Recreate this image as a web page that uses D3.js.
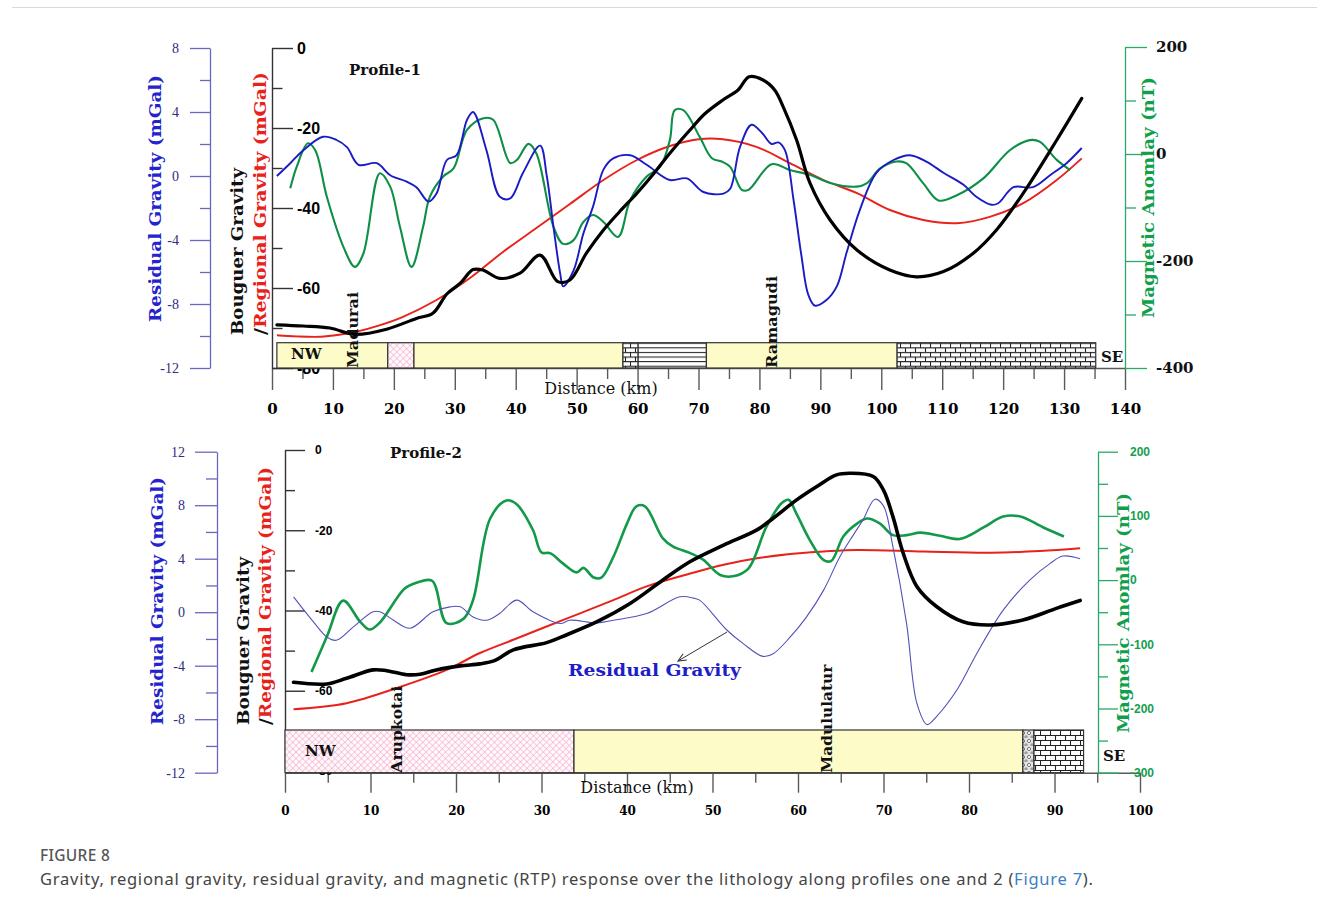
<!DOCTYPE html>
<html><head><meta charset="utf-8">
<script src="https://cdn.jsdelivr.net/npm/d3@7"></script>
<style>
body{margin:0;background:#fff;}
svg{display:block;}
</style></head><body>
<svg id="chart" width="1329" height="911"></svg>
<script>
// ---------------- DATA ----------------
// Profile 1  ([distance km, value])
const p1Bouguer = [[0.8,-69.2],[5.1,-69.5],[9.5,-70],[13.6,-71.6],[18.8,-70.3],[23.7,-67.6],[26.4,-66.3],[28.7,-61.5],[30.9,-58.8],[33,-55.4],[34.6,-55.5],[37.4,-57.6],[40.7,-56.3],[44,-51.8],[46.9,-58.4],[48.9,-58],[51.6,-51.3],[54.4,-45.5],[57,-41],[59.9,-36.3],[62.6,-31.5],[65.3,-26.3],[68.6,-20.5],[71,-16.5],[74,-13],[76.5,-10.5],[78.3,-7.2],[80.6,-8],[82.5,-10.5],[83.9,-14.7],[86.1,-23],[88.3,-33.8],[91.6,-43],[96,-50.5],[101.4,-55.5],[105.8,-57.2],[110.2,-55.9],[115.1,-51.3],[118.9,-45.5],[123.3,-36.3],[128.8,-23],[132.9,-12.6]];
const p1Regional = [[0.8,-71.8],[4,-72.1],[7.9,-72.2],[11,-71.7],[13.9,-70.9],[17.5,-69.4],[21.5,-67.2],[27,-63],[32.5,-57.5],[37.9,-51],[43.4,-45],[48.9,-39],[54.4,-33],[59.9,-28],[65.3,-24.5],[70,-22.8],[74,-22.8],[79.5,-24.7],[85,-28.8],[90.5,-33],[96,-36.3],[101.4,-40.5],[106.9,-43],[112.4,-43.8],[117.8,-42.2],[123.3,-38.8],[128.8,-33],[132.9,-27.6]];
const p1Residual = [[0.8,0],[3,0.8],[5.1,1.6],[8.4,2.45],[10.6,2.25],[12.3,1.8],[14.2,0.7],[17.2,0.8],[19.4,0.05],[22.1,-0.35],[23.7,-0.7],[25.7,-1.6],[27,-1.1],[28.7,1.0],[30.3,1.3],[32,3.5],[33,4.0],[35.2,1.6],[37.4,-1.3],[39.1,-1.4],[41.2,0.2],[44,1.9],[45.1,0],[46.2,-3.2],[47.3,-6.1],[47.8,-6.9],[49.5,-5.9],[51.1,-3.6],[52.7,-1.9],[54.4,0.4],[56,1.1],[58.8,1.3],[61.5,0.7],[65.3,-0.25],[68.1,-0.15],[70.8,-1.0],[74.1,-1.1],[75.2,-0.8],[76.8,1.8],[78.7,3.2],[80.4,2.7],[82,2.0],[83.1,2.1],[84.2,1.6],[85.6,-1.5],[86.9,-5.0],[88,-7.4],[89.1,-8.1],[91,-7.75],[92.7,-6.9],[94.3,-4.8],[96.5,-2.1],[99.2,0.2],[102,1.0],[104.7,1.3],[107.4,0.9],[110.2,0.2],[113.5,-0.55],[115.6,-1.3],[118.1,-1.8],[119.2,-1.7],[121.7,-0.7],[124.9,-0.7],[127.7,0.05],[130.4,0.8],[132.9,1.75]];
const p1Magnetic = [[3,-64],[4.05,-24],[5.9,20],[7.1,7],[9,-80],[11.7,-173],[13.6,-211],[15,-186],[17.7,-36],[19.4,-61],[21,-136],[22.9,-211],[24.8,-136],[25.9,-80],[28.1,-42],[29.8,-27],[32,45],[34.7,67],[36.3,64],[39.1,-17],[40.2,-11],[42.1,19],[43.4,1],[46.2,-136],[47.8,-168],[49.5,-161],[51.1,-127],[52.7,-114],[54.4,-127],[56.8,-155],[58.8,-86],[61.5,-42],[63.7,-24],[65.3,26],[66.1,82],[67.5,82],[70.2,32],[72.2,-8],[73.8,-14],[75.2,-24],[77.1,-67],[78.2,-67],[82,-19],[85,-30],[88.3,-39],[91.6,-54],[96,-61],[97.6,-55],[99.8,-27],[102.5,-14],[104.1,-17],[106.9,-55],[109.4,-87],[112.4,-77],[116.8,-45],[121.1,7],[124.4,26],[126,23],[128.8,-11],[131,-30]];
const p1Lith = [
  {from:0.8, to:19.0, rock:'sand'},
  {from:19.0, to:23.3, rock:'cross'},
  {from:23.3, to:57.6, rock:'sand'},
  {from:57.6, to:60.1, rock:'brick'},
  {from:60.1, to:71.3, rock:'hlines'},
  {from:71.3, to:102.6, rock:'sand'},
  {from:102.6, to:135.2, rock:'brick'}
];
const p1Places = [{name:'Madurai', km:13.3}, {name:'Ramagudi', km:82.1}];
const p1XTicks = [0,10,20,30,40,50,60,70,80,90,100,110,120,130,140];
const p1XMinor = [5,15,25,35,45,55,65,75,85,95,105,115,125,135];
const p1BouguerTicks = [0,-20,-40,-60,-80];
const p1BouguerMinor = [-10,-30,-50,-70];
const p1ResTicks = [8,4,0,-4,-8,-12];
const p1ResMinor = [6,2,-2,-6,-10];
const p1MagTicks = [200,0,-200,-400];
const p1MagMinor = [100,-100,-300];

// Profile 2
const p2Bouguer = [[1,-57.9],[4.9,-58.3],[7.2,-56.9],[10.3,-54.8],[11.9,-55],[14.2,-56],[15.8,-55.9],[17.7,-54.8],[20.5,-53.8],[22.8,-53.3],[24.5,-52.5],[26.7,-49.8],[30.6,-48],[32.9,-46.1],[36.5,-42.8],[40.4,-38.2],[44.2,-32.4],[47.4,-27.8],[51.3,-23.7],[55.2,-19.9],[57.1,-17],[59.8,-12.5],[62.2,-9.1],[64.5,-6.2],[66.1,-5.8],[68.8,-6.6],[70,-10],[71.1,-16.6],[72.3,-25.7],[73.9,-34],[76.2,-39],[79.3,-42.8],[82.5,-43.6],[86.4,-42.3],[90.3,-39.4],[93,-37.5]];
const p2Regional = [[1,-64.6],[7.2,-63.1],[13.1,-59.3],[18.9,-54.8],[22.8,-50.6],[26.7,-47.3],[30.6,-44],[34.5,-40.7],[38.4,-37.4],[42.3,-34],[47.4,-30.8],[51.3,-28.6],[55.2,-27],[59.1,-25.9],[63,-25.3],[66.9,-24.9],[74.7,-25.3],[82.5,-25.6],[88.3,-25.2],[93,-24.5]];
const p2Residual = [[1,1.15],[3.3,-0.7],[4.9,-1.85],[6,-2.1],[8,-1.1],[10.3,0.03],[11.1,0.03],[12.7,-0.6],[14.6,-1.2],[17.3,0.03],[19.3,0.4],[20.5,0.4],[22,-0.35],[23.6,-0.6],[25.1,-0.1],[27.1,0.9],[29,0.03],[32.2,-0.85],[33.3,-0.6],[36.5,-0.8],[38.4,-0.6],[42.3,-0.1],[46.2,1.15],[47.8,1.05],[48.5,0.9],[51.7,-1.35],[53.6,-2.35],[55.9,-3.3],[57.1,-3.1],[59.1,-1.85],[61,-0.35],[63,1.65],[64.9,4.15],[66.5,5.8],[67.6,6.9],[69,8.45],[70,7.95],[71.1,4.9],[72.7,-0.85],[73.9,-6.8],[75.1,-8.4],[76.2,-7.8],[78.6,-5.8],[80.9,-3.1],[84,0.15],[87.1,2.4],[89.5,3.65],[91,4.2],[93,4.0]];
const p2Magnetic = [[3.1,-143],[4.9,-88],[6.8,-32],[8.8,-65],[9.9,-77],[11.1,-66],[14,-13],[15.4,-4],[17.2,-1],[18.9,-67],[20.9,-60],[22,-31],[24,96],[25.9,124],[27.1,118],[29,78],[30,43],[31,42],[32.5,26],[34.1,12],[34.9,19],[36.1,4],[37,4],[38.4,36],[40,88],[41.1,115],[42.1,115],[44.2,65],[45.4,52],[47.4,42],[48.9,32],[50.9,8],[52.4,6],[54.2,18],[56.3,83],[58.1,120],[58.9,125],[59.8,104],[61.4,62],[63,31],[63.9,30],[65.3,68],[66.9,88],[68.1,96],[69.6,88],[71.1,70],[72.7,70],[74.3,74],[76.6,69],[78.9,64],[81.7,82],[84,99],[86,99],[88.7,82],[91.1,68]];
const p2Lith = [
  {from:0, to:33.8, rock:'cross'},
  {from:33.8, to:86.3, rock:'sand'},
  {from:86.3, to:87.6, rock:'pebble'},
  {from:87.6, to:93.4, rock:'brick2'}
];
const p2Places = [{name:'Arupkotai', km:13.1}, {name:'Madululatur', km:63.4}];
const p2XTicks = [0,10,20,30,40,50,60,70,80,90,100];
const p2XMinor = [5,15,25,35,45,55,65,75,85,95];
const p2BouguerTicks = [0,-20,-40,-60,-80];
const p2BouguerMinor = [-10,-30,-50,-70];
const p2ResTicks = [12,8,4,0,-4,-8,-12];
const p2ResMinor = [10,6,2,-2,-6,-10];
const p2MagTicks = [200,100,0,-100,-200,-300];
const p2MagMinor = [150,50,-50,-150,-250];

// ---------------- DRAWING ----------------
const SLAB = "'DejaVu Serif', serif";
const SANS = "'Liberation Sans', Arial, sans-serif";
const TIMES = "'Liberation Serif', 'Times New Roman', serif";
const C = {blue:'#1b1bc4', blue2:'#5252b8', green:'#0d8f48', green2:'#12994a', red:'#e8221b',
  sand:'#fdfbc8', resAxis:'#6767c2', resText:'#2e2e80', magAxis:'#2aa866', gray:'#5a5a5a'};

const svg = d3.select('#chart');
const defs = svg.append('defs');

// patterns
const pc = defs.append('pattern').attr('id','cross').attr('patternUnits','userSpaceOnUse')
  .attr('width',4.6).attr('height',4.6).attr('patternTransform','rotate(45)');
pc.append('rect').attr('width',4.6).attr('height',4.6).attr('fill','#fff8fb');
pc.append('path').attr('d','M0,0H4.6M0,0V4.6').attr('stroke','#f09ac3').attr('stroke-width',1);

function brick(id, w, h, y0) {
  const p = defs.append('pattern').attr('id',id).attr('patternUnits','userSpaceOnUse')
    .attr('width',w).attr('height',2*h).attr('y',y0);
  p.append('rect').attr('width',w).attr('height',2*h).attr('fill','#fff');
  p.append('path').attr('d',`M0,0.5H${w}M0,${h+0.5}H${w}M0.5,0V${h}M${w/2+0.5},${h}V${2*h}`)
    .attr('stroke','#222').attr('stroke-width',1.1).attr('fill','none');
}
brick('brick', 10, 4.6, 342.7);
brick('brick2', 10, 5, 730);
const ph = defs.append('pattern').attr('id','hlines').attr('patternUnits','userSpaceOnUse')
  .attr('width',6).attr('height',4.6).attr('y',342.7);
ph.append('rect').attr('width',6).attr('height',4.6).attr('fill','#fff');
ph.append('path').attr('d','M0,0.5H6').attr('stroke','#222').attr('stroke-width',1.1);
const pp = defs.append('pattern').attr('id','pebble').attr('patternUnits','userSpaceOnUse')
  .attr('width',6).attr('height',8).attr('y',730);
pp.append('rect').attr('width',6).attr('height',8).attr('fill','#e4e4e4');
pp.append('circle').attr('cx',3).attr('cy',3).attr('r',1.6).attr('fill','#fff').attr('stroke','#555').attr('stroke-width',0.8);
pp.append('circle').attr('cx',0).attr('cy',7).attr('r',1.2).attr('fill','none').attr('stroke','#555').attr('stroke-width',0.7);
pp.append('circle').attr('cx',6).attr('cy',7).attr('r',1.2).attr('fill','none').attr('stroke','#555').attr('stroke-width',0.7);

const mk = defs.append('marker').attr('id','arrow').attr('viewBox','0 0 10 10').attr('refX',9).attr('refY',5)
  .attr('markerWidth',9).attr('markerHeight',9).attr('orient','auto-start-reverse').attr('markerUnits','userSpaceOnUse');
mk.append('path').attr('d','M0,1L9,5L0,9').attr('fill','none').attr('stroke','#333').attr('stroke-width',1.2);

const fillFor = r => r==='sand' ? C.sand : `url(#${r})`;

function styleAxis(a, o) {
  a.select('.domain').attr('stroke', o.color).attr('stroke-width', o.sw || 1.3);
  if (o.noDomain) a.select('.domain').remove();
  a.selectAll('.tick line').attr('stroke', o.color).attr('stroke-width', o.sw || 1.3);
  a.selectAll('.tick text').attr('fill', o.text || '#000')
    .style('font-family', o.font).style('font-size', o.size + 'px').style('font-weight', o.weight || 'normal');
}
const fmt = d => String(d);

function rotText(g, cx, cy, anchor, len, size, parts) {
  const t = g.append('text').attr('transform', `translate(${cx},${cy}) rotate(-90)`)
    .attr('text-anchor', anchor).attr('dominant-baseline','central')
    .style('font-family', SLAB).style('font-weight','bold').style('font-size', size + 'px')
    .attr('textLength', len).attr('lengthAdjust','spacingAndGlyphs');
  parts.forEach(p => t.append('tspan').attr('fill', p[1]).text(p[0]));
  return t;
}

function drawPanel(P) {
  const g = svg.append('g');
  const {x, yB, yR, yM} = P;

  // x axis
  const xa = g.append('g').attr('transform',`translate(0,${P.base})`)
    .call(d3.axisBottom(x).tickValues(P.xTicks).tickSize(P.xTick).tickSizeOuter(0).tickPadding(P.xPad).tickFormat(fmt));
  styleAxis(xa, {color:C.gray, font:SLAB, size:P.xFont, weight:'bold', sw:1.4});
  const xm = g.append('g').attr('transform',`translate(0,${P.base})`)
    .call(d3.axisBottom(x).tickValues(P.xMinor).tickSize(P.xTick/2).tickFormat(''));
  styleAxis(xm, {color:C.gray, noDomain:true, sw:1.4});
  g.append('text').attr('x', P.distX).attr('y', P.distY).attr('text-anchor','middle')
    .style('font-family', SLAB).style('font-size', P.distFont + 'px').attr('fill','#111').text('Distance (km)');

  // Bouguer axis (black)
  const ba = g.append('g').attr('transform',`translate(${x(0)},0)`)
    .call(d3.axisRight(yB).tickValues(P.bTicks).tickSize(P.bTick).tickSizeOuter(0).tickPadding(P.bPad).tickFormat(fmt));
  styleAxis(ba, {color:'#333', font:SANS, size:P.bFont, weight:'bold', sw:1.4});
  const bm = g.append('g').attr('transform',`translate(${x(0)},0)`)
    .call(d3.axisRight(yB).tickValues(P.bMinor).tickSize(P.bTick/2).tickFormat(''));
  styleAxis(bm, {color:'#333', noDomain:true, sw:1.4});

  // Residual axis (blue, left)
  const ra = g.append('g').attr('transform',`translate(${P.resX},0)`)
    .call(d3.axisLeft(yR).tickValues(P.rTicks).tickSize(P.rTick).tickSizeOuter(0).tickPadding(P.rPad).tickFormat(fmt));
  styleAxis(ra, {color:C.resAxis, text:C.resText, font:TIMES, size:P.rFont, sw:1.3});
  const rm = g.append('g').attr('transform',`translate(${P.resX},0)`)
    .call(d3.axisLeft(yR).tickValues(P.rMinor).tickSize(P.rTick/2).tickFormat(''));
  styleAxis(rm, {color:C.resAxis, noDomain:true, sw:1.3});

  // Magnetic axis (green, right)
  const ma = g.append('g').attr('transform',`translate(${P.magX},0)`)
    .call(d3.axisRight(yM).tickValues(P.mTicks).tickSize(P.mTick).tickSizeOuter(0).tickPadding(P.mPad).tickFormat(fmt));
  styleAxis(ma, {color:C.magAxis, text:P.mText, font:P.mFontFam, size:P.mFont, weight:'bold', sw:1.3});
  const mm = g.append('g').attr('transform',`translate(${P.magX},0)`)
    .call(d3.axisRight(yM).tickValues(P.mMinor).tickSize(P.mTick/2).tickFormat(''));
  styleAxis(mm, {color:C.magAxis, noDomain:true, sw:1.3});

  // curves
  const mkLine = (ys) => d3.line().x(d => x(d[0])).y(d => ys(d[1])).curve(d3.curveCatmullRom.alpha(0.5));
  g.append('path').datum(P.regional).attr('d', mkLine(yB)).attr('fill','none').attr('stroke',C.red).attr('stroke-width',P.redW);
  g.append('path').datum(P.magnetic).attr('d', mkLine(yM)).attr('fill','none').attr('stroke',P.greenC).attr('stroke-width',P.greenW).attr('stroke-linejoin','round');
  g.append('path').datum(P.residual).attr('d', mkLine(yR)).attr('fill','none').attr('stroke',P.blueC).attr('stroke-width',P.blueW).attr('stroke-linejoin','round');
  g.append('path').datum(P.bouguer).attr('d', mkLine(yB)).attr('fill','none').attr('stroke','#000').attr('stroke-width',P.blackW).attr('stroke-linejoin','round').attr('stroke-linecap','round');

  // lithology bar
  g.selectAll('rect.lith').data(P.lith).enter().append('rect').attr('class','lith')
    .attr('x', d => x(d.from)).attr('width', d => x(d.to) - x(d.from))
    .attr('y', P.barTop).attr('height', P.base - P.barTop)
    .attr('fill', d => fillFor(d.rock)).attr('stroke','#333').attr('stroke-width',1.2);

  // place names
  P.places.forEach((p, i) => {
    g.append('text').attr('transform', `translate(${x(p.km)},${P.base}) rotate(-90)`)
      .attr('dominant-baseline','central').attr('text-anchor','start')
      .style('font-family', SLAB).style('font-weight','bold').style('font-size', P.placeFont + 'px')
      .attr('textLength', P.placeLen[i]).attr('lengthAdjust','spacingAndGlyphs')
      .attr('fill','#111').text(p.name);
  });

  // NW / SE
  g.append('text').attr('x', P.nwX).attr('y', P.nwY).style('font-family',SLAB).style('font-weight','bold')
    .style('font-size', P.nsFont + 'px').attr('fill','#111').text('NW');
  g.append('text').attr('x', P.seX).attr('y', P.seY).style('font-family',SLAB).style('font-weight','bold')
    .style('font-size', P.nsFont + 'px').attr('fill','#111').text('SE');

  // profile label
  g.append('text').attr('x', P.profX).attr('y', P.profY).style('font-family',SLAB).style('font-weight','bold')
    .style('font-size','15px').attr('fill','#111').text(P.profile);

  // axis titles
  rotText(g, P.t.res[0], P.t.res[1], 'middle', P.t.res[2], 17, [['Residual Gravity (mGal)', '#2424cc']]);
  rotText(g, P.t.boug[0], P.t.boug[1], 'start', P.t.boug[2], 17, [['Bouguer Gravity', '#111']]);
  rotText(g, P.t.reg[0], P.t.reg[1], 'start', P.t.reg[2], 17, [['/', '#111'], ['Regional Gravity (mGal)', C.red]]);
  rotText(g, P.t.mag[0], P.t.mag[1], 'middle', P.t.mag[2], 17, [['Magnetic Anomlay (nT)', '#10a04c']]);
  return g;
}

// top border line
svg.append('line').attr('x1',12).attr('x2',1317).attr('y1',7.5).attr('y2',7.5).attr('stroke','#d9d9d9').attr('stroke-width',1);

// Panel 1
drawPanel({
  x: d3.scaleLinear().domain([0,140]).range([272,1125]),
  yB: d3.scaleLinear().domain([-80,0]).range([368,48]),
  yR: d3.scaleLinear().domain([-12,8]).range([368,48]),
  yM: d3.scaleLinear().domain([-400,200]).range([368,47]),
  base: 368, xTicks:p1XTicks, xMinor:p1XMinor, xTick:22, xPad:13, xFont:15,
  distX:601, distY:394, distFont:16,
  bTicks:p1BouguerTicks, bMinor:p1BouguerMinor, bTick:21, bPad:4, bFont:16,
  resX:210, rTicks:p1ResTicks, rMinor:p1ResMinor, rTick:20, rPad:11, rFont:14,
  magX:1125, mTicks:p1MagTicks, mMinor:p1MagMinor, mTick:22, mPad:9, mFont:15, mText:'#111', mFontFam:SLAB,
  bouguer:p1Bouguer, regional:p1Regional, residual:p1Residual, magnetic:p1Magnetic,
  redW:1.9, greenW:2.1, greenC:C.green, blueW:1.9, blueC:C.blue, blackW:3.2,
  lith:p1Lith, barTop:342.7, places:p1Places, placeFont:15, placeLen:[76,92],
  nwX:291, nwY:359, seX:1101, seY:362, nsFont:15,
  profile:'Profile-1', profX:349, profY:75,
  t:{res:[155,198.5,247], boug:[237,335,167], reg:[260,335,263], mag:[1148,197.5,241]}
});

// Panel 2
drawPanel({
  x: d3.scaleLinear().domain([0,100]).range([285,1140]),
  yB: d3.scaleLinear().domain([-80,0]).range([771,450]),
  yR: d3.scaleLinear().domain([-12,12]).range([772.7,451.7]),
  yM: d3.scaleLinear().domain([-300,200]).range([772.7,451.7]),
  base: 772.7, xTicks:p2XTicks, xMinor:p2XMinor, xTick:20, xPad:14, xFont:12,
  distX:637, distY:793, distFont:16,
  bTicks:p2BouguerTicks, bMinor:p2BouguerMinor, bTick:20, bPad:10, bFont:12,
  resX:217, rTicks:p2ResTicks, rMinor:p2ResMinor, rTick:22, rPad:10, rFont:14,
  magX:1098, mTicks:p2MagTicks, mMinor:p2MagMinor, mTick:20, mPad:12, mFont:12, mText:'#14a04e', mFontFam:SANS,
  bouguer:p2Bouguer, regional:p2Regional, residual:p2Residual, magnetic:p2Magnetic,
  redW:2, greenW:2.6, greenC:C.green2, blueW:1.1, blueC:C.blue2, blackW:3.6,
  lith:p2Lith, barTop:730, places:p2Places, placeFont:15, placeLen:[87,108],
  nwX:305, nwY:756, seX:1103, seY:761, nsFont:15,
  profile:'Profile-2', profX:390, profY:458,
  t:{res:[157,601,248], boug:[243,725,168], reg:[265,725,258], mag:[1123,613,240]}
});

// Residual Gravity annotation (profile 2)
svg.append('text').attr('x',568).attr('y',676).style('font-family',SLAB).style('font-weight','bold')
  .style('font-size','17px').attr('fill','#1e1ec8').attr('textLength',173).attr('lengthAdjust','spacingAndGlyphs')
  .text('Residual Gravity');
svg.append('line').attr('x1',727).attr('y1',632).attr('x2',678).attr('y2',661)
  .attr('stroke','#333').attr('stroke-width',1).attr('marker-end','url(#arrow)');

// Caption
svg.append('text').attr('x',40).attr('y',861).style('font-family',"'Noto Sans', sans-serif")
  .style('font-size','15.5px').style('font-weight','500').style('letter-spacing','0.3px').attr('fill','#555').text('FIGURE 8');
const cap = svg.append('text').attr('x',40).attr('y',885).style('font-family',"'Noto Sans', sans-serif")
  .style('font-size','16.5px').attr('fill','#444').attr('textLength',1053).attr('lengthAdjust','spacing');
cap.append('tspan').text('Gravity, regional gravity, residual gravity, and magnetic (RTP) response over the lithology along profiles one and 2 (');
cap.append('tspan').attr('fill','#3b7fc4').text('Figure 7');
cap.append('tspan').text(').');
</script>
</body></html>
